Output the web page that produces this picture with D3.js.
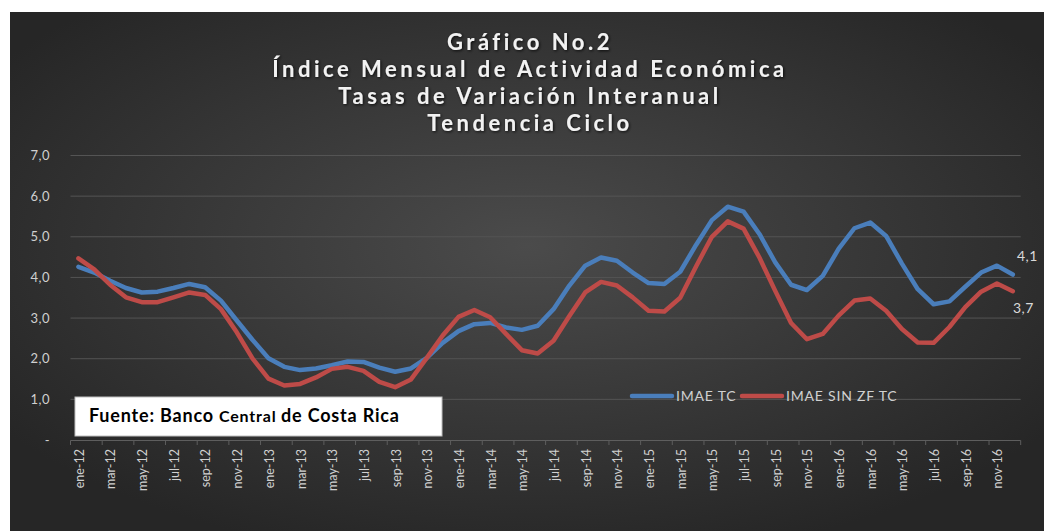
<!DOCTYPE html>
<html>
<head>
<meta charset="utf-8">
<script src="https://cdn.jsdelivr.net/npm/d3@7"></script>
<style>
  body { margin: 0; background: #ffffff; }
  text { font-family: Lato, "Open Sans", sans-serif; }
</style>
</head>
<body>
<div id="chart"></div>
<script>
var width = 1050;
var height = 531;

// data
var meses = ['ene','feb','mar','abr','may','jun','jul','ago','sep','oct','nov','dic'];
var anios = ['12','13','14','15','16'];
var imaeTC = [
  4.26, 4.12, 3.92, 3.74, 3.63, 3.65, 3.74, 3.84, 3.76, 3.43, 2.94, 2.46,
  2.01, 1.80, 1.72, 1.76, 1.84, 1.93, 1.92, 1.78, 1.68, 1.76, 2.02, 2.39,
  2.68, 2.85, 2.88, 2.77, 2.71, 2.81, 3.22, 3.80, 4.29, 4.49, 4.41, 4.12,
  3.86, 3.84, 4.14, 4.80, 5.41, 5.74, 5.62, 5.07, 4.37, 3.82, 3.69, 4.04,
  4.70, 5.21, 5.35, 5.02, 4.34, 3.71, 3.34, 3.41, 3.77, 4.12, 4.29, 4.07
];
var imaeSinZF = [
  4.47, 4.20, 3.82, 3.51, 3.39, 3.39, 3.51, 3.63, 3.57, 3.22, 2.65, 2.00,
  1.51, 1.34, 1.38, 1.54, 1.75, 1.80, 1.70, 1.43, 1.30, 1.49, 2.02, 2.57,
  3.03, 3.20, 3.02, 2.61, 2.21, 2.13, 2.44, 3.05, 3.63, 3.89, 3.80, 3.51,
  3.18, 3.16, 3.50, 4.27, 5.00, 5.38, 5.20, 4.49, 3.67, 2.88, 2.48, 2.61,
  3.06, 3.43, 3.48, 3.18, 2.73, 2.40, 2.39, 2.78, 3.27, 3.65, 3.85, 3.66
];
var yTicks = [0, 1, 2, 3, 4, 5, 6, 7];
var titulo = ['Gráfico No.2', 'Índice Mensual de Actividad Económica', 'Tasas de Variación Interanual', 'Tendencia Ciclo'];
var series = [
  { name: 'IMAE TC', values: imaeTC, color: '#4a7ebb', last: '4,1' },
  { name: 'IMAE SIN ZF TC', values: imaeSinZF, color: '#be4b48', last: '3,7' }
];

var fechas = [];
anios.forEach(function(a) {
  meses.forEach(function(m) { fechas.push(m + '-' + a); });
});

var svg = d3.select('#chart')
  .append('svg')
  .attr('width', width)
  .attr('height', height);

var defs = svg.append('defs');
var grad = defs.append('radialGradient')
  .attr('id', 'bg')
  .attr('cx', '50%').attr('cy', '45%').attr('r', '62%');
grad.append('stop').attr('offset', '0%').attr('stop-color', '#4b4b4b');
grad.append('stop').attr('offset', '100%').attr('stop-color', '#262626');

var glow = defs.append('filter').attr('id', 'glow')
  .attr('x', '-10%').attr('y', '-40%').attr('width', '120%').attr('height', '180%');
glow.append('feDropShadow')
  .attr('dx', 1).attr('dy', 1).attr('stdDeviation', 1.5)
  .attr('flood-color', '#000').attr('flood-opacity', 0.8);

svg.append('rect')
  .attr('x', 10).attr('y', 12)
  .attr('width', 1034).attr('height', 519)
  .attr('fill', 'url(#bg)');

// scales
var x = d3.scaleBand().domain(fechas).range([70.5, 1020.7]).padding(0);
var y = d3.scaleLinear().domain([0, 7]).range([440, 155.5]);
var cx = function(i) { return x(fechas[i]) + x.bandwidth() / 2; };

// gridlines
svg.append('g')
  .selectAll('line')
  .data(yTicks.slice(1))
  .enter()
  .append('line')
  .attr('x1', 70.5).attr('x2', 1020.7)
  .attr('y1', d => y(d)).attr('y2', d => y(d))
  .attr('stroke', '#545454')
  .attr('stroke-width', 1);

// y axis labels
svg.append('g')
  .selectAll('text')
  .data(yTicks)
  .enter()
  .append('text')
  .attr('x', 50)
  .attr('y', d => y(d))
  .attr('dy', '0.35em')
  .attr('text-anchor', 'end')
  .attr('font-size', '13px')
  .attr('letter-spacing', '0.5px')
  .attr('fill', '#d0d0d0')
  .text(d => d === 0 ? '-' : d.toFixed(1).replace('.', ','));

// x axis
svg.append('line')
  .attr('x1', 70.5).attr('x2', 1020.7)
  .attr('y1', 440.5).attr('y2', 440.5)
  .attr('stroke', '#5e5e5e');

var tickIdx = d3.range(0, 61, 2);
svg.append('g')
  .selectAll('line')
  .data(tickIdx)
  .enter()
  .append('line')
  .attr('x1', d => d < 60 ? x(fechas[d]) : x.range()[1])
  .attr('x2', d => d < 60 ? x(fechas[d]) : x.range()[1])
  .attr('y1', 440.5).attr('y2', 445)
  .attr('stroke', '#5e5e5e');

svg.append('g')
  .selectAll('text')
  .data(fechas.filter((d, i) => i % 2 === 0))
  .enter()
  .append('text')
  .attr('transform', d => `translate(${x(d) + x.bandwidth() / 2 + 1}, 449) rotate(-90)`)
  .attr('dy', '0.35em')
  .attr('text-anchor', 'end')
  .attr('font-size', '12.5px')
  .attr('fill', '#d0d0d0')
  .text(d => d);

// lines
var line = d3.line()
  .x((d, i) => cx(i))
  .y(d => y(d));

series.forEach(function(s) {
  svg.append('path')
    .datum(s.values)
    .attr('d', line)
    .attr('fill', 'none')
    .attr('stroke', s.color)
    .attr('stroke-width', 4.5)
    .attr('stroke-linejoin', 'round')
    .attr('stroke-linecap', 'round');
});

// end labels
svg.append('text')
  .attr('x', 1017).attr('y', y(imaeTC[59]) - 18)
  .attr('dy', '0.35em')
  .attr('font-size', '14px').attr('letter-spacing', '0.5px').attr('fill', '#d9d9d9')
  .text(series[0].last);
svg.append('text')
  .attr('x', 1013).attr('y', y(imaeSinZF[59]) + 17)
  .attr('dy', '0.35em')
  .attr('font-size', '14px').attr('letter-spacing', '0.5px').attr('fill', '#d9d9d9')
  .text(series[1].last);

// legend
var legend = svg.append('g').attr('transform', 'translate(632, 396)');
var lx = [0, 110];
series.forEach(function(s, i) {
  var g = legend.append('g').attr('transform', `translate(${lx[i]}, 0)`);
  g.append('line')
    .attr('x1', 0).attr('x2', 40)
    .attr('stroke', s.color)
    .attr('stroke-width', 4.5)
    .attr('stroke-linecap', 'round');
  g.append('text')
    .attr('x', 44).attr('dy', '0.35em')
    .attr('font-size', '14px')
    .attr('letter-spacing', '0.8px')
    .attr('fill', '#d0d0d0')
    .text(s.name);
});

// source box
svg.append('rect')
  .attr('x', 75).attr('y', 397)
  .attr('width', 367).attr('height', 39)
  .attr('fill', '#ffffff')
  .attr('stroke', '#bfbfbf');
var fuente = svg.append('text')
  .attr('x', 89).attr('y', 422)
  .attr('font-weight', 'bold')
  .attr('fill', '#000')
  .attr('font-size', '18px')
  .attr('letter-spacing', '0.8px');
fuente.append('tspan').text('Fuente: Banco ');
fuente.append('tspan').attr('font-size', '16px').text('Central ');
fuente.append('tspan').text('de Costa Rica');

// title
svg.append('g')
  .attr('filter', 'url(#glow)')
  .selectAll('text')
  .data(titulo)
  .enter()
  .append('text')
  .attr('x', 530)
  .attr('y', (d, i) => 42 + i * 27)
  .attr('dy', '0.35em')
  .attr('text-anchor', 'middle')
  .attr('font-size', '22px')
  .attr('font-weight', 'bold')
  .attr('letter-spacing', '3.5px')
  .attr('fill', '#f2f2f2')
  .text(d => d);
</script>
</body>
</html>
